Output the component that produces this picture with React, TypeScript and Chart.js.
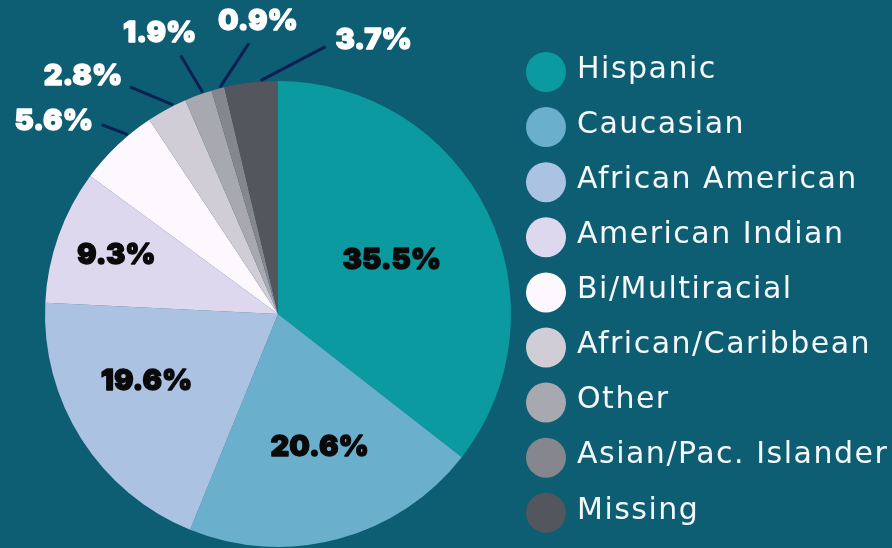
import React, { useEffect, useRef } from "react";
import { Chart, registerables } from "chart.js";

Chart.register(...registerables);

const categories = [
  "Hispanic",
  "Caucasian",
  "African American",
  "American Indian",
  "Bi/Multiracial",
  "African/Caribbean",
  "Other",
  "Asian/Pac. Islander",
  "Missing",
];
const percentages = [35.5, 20.6, 19.6, 9.3, 5.6, 2.8, 1.9, 0.9, 3.7];
const percentLabels = ["35.5%", "20.6%", "19.6%", "9.3%", "5.6%", "2.8%", "1.9%", "0.9%", "3.7%"];

const sliceColors = [
  "rgb(10,154,160)",
  "rgb(106,175,203)",
  "rgb(172,194,226)",
  "rgb(221,216,238)",
  "rgb(253,248,253)",
  "rgb(208,205,214)",
  "rgb(168,168,176)",
  "rgb(133,134,142)",
  "rgb(84,86,94)",
];
const BG = "rgb(13,93,115)";
const LEADER = "rgb(10,32,82)";

// style: radial fraction and angular nudge (deg) for labels placed inside slices
const innerFractions = [0.54, 0.6, 0.634, 0.738];
const innerAngleNudge = [0.8, -2.4, 5.4, 0.4];
// style: leader-line shape for labels placed outside (index 4..8)
const outerLeader = [
  { dx: -26, dy: -10, tx: -48, ty: -3 },
  { dx: -43, dy: -18, tx: -47, ty: -11 },
  { dx: -22, dy: -37, tx: -21, ty: -22 },
  { dx: 29, dy: -44, tx: 9, ty: -22 },
  { dx: 65, dy: -34, tx: 48, ty: -6 },
];

const LABEL_FONT = "900 29px Inter, 'DejaVu Sans', sans-serif";
const LEGEND_FONT = "400 30px 'DejaVu Sans', sans-serif";

const overlayPlugin = {
  id: "overlay",
  beforeDraw(chart: any) {
    const ctx = chart.ctx;
    ctx.save();
    ctx.fillStyle = BG;
    ctx.fillRect(0, 0, chart.width, chart.height);
    ctx.restore();
  },
  afterDraw(chart: any) {
    const ctx = chart.ctx;
    const meta = chart.getDatasetMeta(0);
    ctx.save();
    ctx.font = LABEL_FONT;
    ctx.textAlign = "center";
    ctx.textBaseline = "middle";
    ctx.lineJoin = "round";
    const heavyText = (t: string, px: number, py: number, color: string) => {
      ctx.fillStyle = color;
      ctx.strokeStyle = color;
      ctx.lineWidth = 1.3;
      ctx.strokeText(t, px, py);
      ctx.fillText(t, px, py);
    };
    meta.data.forEach((arc: any, i: number) => {
      const { x, y, startAngle, endAngle, outerRadius } = arc.getProps(
        ["x", "y", "startAngle", "endAngle", "outerRadius"],
        true
      );
      if (i < innerFractions.length) {
        const mid = (startAngle + endAngle) / 2 + (innerAngleNudge[i] * Math.PI) / 180;
        const r = outerRadius * innerFractions[i];
        heavyText(percentLabels[i], x + Math.cos(mid) * r, y + Math.sin(mid) * r, "#0a0a0a");
      } else {
        const cfg = outerLeader[i - innerFractions.length];
        const a = startAngle + (endAngle - startAngle) * 0.68;
        const r = outerRadius + 1;
        const sx = x + Math.cos(a) * r;
        const sy = y + Math.sin(a) * r;
        const ex = sx + cfg.dx;
        const ey = sy + cfg.dy;
        ctx.strokeStyle = LEADER;
        ctx.lineWidth = 3;
        ctx.beginPath();
        ctx.moveTo(sx, sy);
        ctx.lineTo(ex, ey);
        ctx.stroke();
        heavyText(percentLabels[i], ex + cfg.tx, ey + cfg.ty, "#ffffff");
      }
    });
    ctx.restore();

    // legend
    ctx.save();
    const lx = 546;
    const ly0 = 72;
    const step = 55.1;
    ctx.font = LEGEND_FONT;
    (ctx as any).letterSpacing = "1.5px";
    ctx.textAlign = "left";
    ctx.textBaseline = "middle";
    categories.forEach((name, i) => {
      const cy = ly0 + i * step;
      ctx.fillStyle = sliceColors[i];
      ctx.beginPath();
      ctx.arc(lx, cy, 20, 0, Math.PI * 2);
      ctx.fill();
      ctx.fillStyle = "#f4f8fa";
      ctx.fillText(name, 577, cy - 2);
    });
    ctx.restore();
  },
};

export default function App() {
  const ref = useRef<HTMLCanvasElement | null>(null);
  useEffect(() => {
    document.body.style.margin = "0";
    document.body.style.background = BG;
    const chart = new Chart(ref.current as HTMLCanvasElement, {
      type: "pie",
      data: {
        labels: categories,
        datasets: [
          {
            data: percentages,
            backgroundColor: sliceColors,
            borderWidth: 0,
          },
        ],
      },
      options: {
        animation: false,
        responsive: false,
        layout: { padding: { left: 45, right: 381, top: 81, bottom: 1 } },
        plugins: { legend: { display: false }, tooltip: { enabled: false } },
      },
      plugins: [overlayPlugin],
    });
    return () => chart.destroy();
  }, []);
  return (
    <div style={{ width: 892, height: 548, overflow: "hidden" }}>
      <canvas ref={ref} width={892} height={548} style={{ display: "block" }} />
    </div>
  );
}
